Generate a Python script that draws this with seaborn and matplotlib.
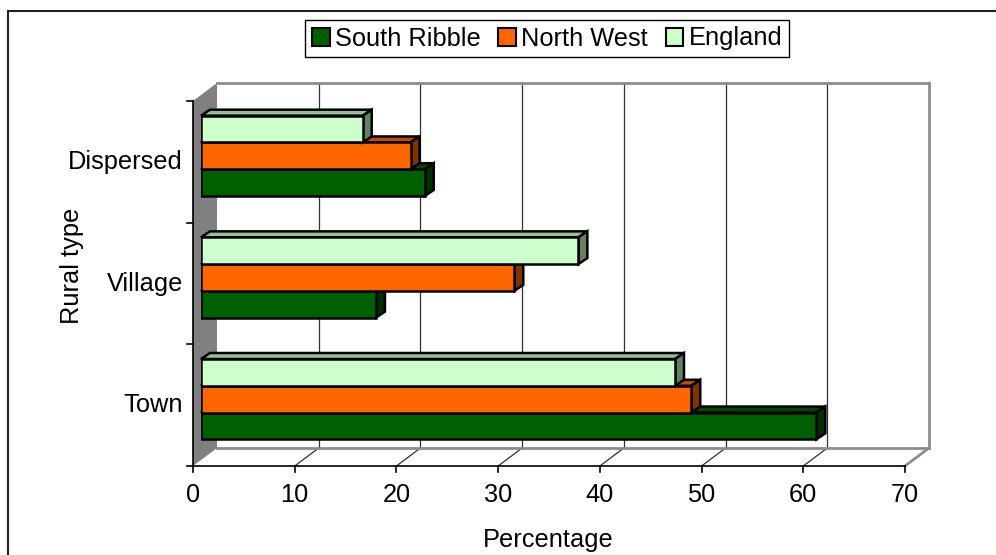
import matplotlib
matplotlib.use("Agg")
import matplotlib.pyplot as plt
import matplotlib.colors as mcolors
import seaborn as sns
import pandas as pd
from matplotlib.patches import Polygon, Rectangle, Patch
from matplotlib.transforms import IdentityTransform

# data
rural_types = ["Dispersed", "Village", "Town"]
south_ribble = [22.0, 17.2, 60.5]
north_west = [20.6, 30.8, 48.2]
england = [15.9, 37.1, 46.6]
x_ticks = [0, 10, 20, 30, 40, 50, 60, 70]
legend_order = ["South Ribble", "North West", "England"]

df = pd.DataFrame({
    "Rural type": rural_types * 3,
    "Region": ["South Ribble"] * 3 + ["North West"] * 3 + ["England"] * 3,
    "Percentage": south_ribble + north_west + england,
})

colors = {"South Ribble": "#006000", "North West": "#ff6600", "England": "#ccffcc"}

sns.set_style("white")
plt.rcParams["font.family"] = ["Liberation Sans", "DejaVu Sans"]
plt.rcParams["text.color"] = "black"
FS = 18.3

W, H = 996, 555
fig = plt.figure(figsize=(W / 100, H / 100), dpi=100)
# the axes is the plane where the bar fronts sit
ax = fig.add_axes([201 / W, 1 - 460 / H, 712 / W, 365 / H])
sns.barplot(data=df, x="Percentage", y="Rural type", hue="Region", order=rural_types,
            hue_order=["England", "North West", "South Ribble"], palette=colors,
            saturation=1, orient="h", width=0.66, edgecolor="black", linewidth=1.8,
            legend=False, ax=ax)
bar_patches = list(ax.patches)
ax.set_xlim(0, 70)
ax.set_ylim(2.5, -0.5)
ax.axis("off")

FRONT = (-8, -6)
BACK = (16, 12)
BAR_D = (9, 6)
ident = IdentityTransform()


def px(x, y, off=(0, 0)):
    X, Y = ax.transData.transform((x, y))
    return (X + off[0], Y + off[1])


def line(p0, p1, color="black", lw=1.0, z=1):
    ax.plot([p0[0], p1[0]], [p0[1], p1[1]], color=color, lw=lw, transform=ident,
            clip_on=False, zorder=z, solid_capstyle="projecting")


def shade(c, f):
    r, g, b = mcolors.to_rgb(c)
    return (r * f, g * f, b * f)


# left side wall
ax.add_artist(Polygon([px(0, -0.5, FRONT), px(0, -0.5, BACK), px(0, 2.5, BACK), px(0, 2.5, FRONT)],
                      closed=True, facecolor="#808080", edgecolor="none", transform=ident,
                      clip_on=False, zorder=0.5))

# back wall and floor
for t in x_ticks[1:-1]:
    line(px(t, -0.5, BACK), px(t, 2.5, BACK), color="#303030", lw=0.9, z=0.6)
    line(px(t, 2.5, FRONT), px(t, 2.5, BACK), color="#303030", lw=0.9, z=0.6)
line(px(0, -0.5, BACK), px(70, -0.5, BACK), color="#8c8c8c", lw=2, z=0.7)
line(px(70, -0.5, BACK), px(70, 2.5, BACK), color="#8c8c8c", lw=2, z=0.7)
line(px(0, 2.5, BACK), px(70, 2.5, BACK), color="#8c8c8c", lw=2, z=0.7)
line(px(70, 2.5, FRONT), px(70, 2.5, BACK), color="#8c8c8c", lw=2, z=0.7)

# front axes lines and ticks
line(px(0, 2.5, FRONT), px(70, 2.5, FRONT), lw=1.2, z=0.8)
line(px(0, -0.5, FRONT), px(0, 2.5, FRONT), lw=1.2, z=0.8)
for t in x_ticks:
    X, Y = px(t, 2.5, FRONT)
    line((X, Y), (X, Y - 6), lw=1.2, z=0.8)
    ax.text(X, Y - 29, str(t), transform=ident, ha="center", va="center", fontsize=FS)
for yb in [-0.5, 0.5, 1.5, 2.5]:
    X, Y = px(0, yb, FRONT)
    line((X - 6, Y), (X, Y), lw=1.2, z=0.8)
for i, name in enumerate(rural_types):
    X, Y = px(0, i, FRONT)
    ax.text(X - 10, Y, name, transform=ident, ha="right", va="center", fontsize=FS)

# 3D faces on the bars, drawn bottom bar first so upper bars hide them
bars = sorted(bar_patches, key=lambda p: -(p.get_y() + p.get_height() / 2))
for i, p in enumerate(bars):
    x0, y0 = p.get_x(), p.get_y()
    (L, B), (R, T) = px(x0, y0 + p.get_height()), px(x0 + p.get_width(), y0)
    fc = p.get_facecolor()
    z = 2 + 2 * i
    dx, dy = BAR_D
    ax.add_artist(Polygon([(L, T), (R, T), (R + dx, T + dy), (L + dx, T + dy)], closed=True,
                          facecolor=shade(fc, 0.75), edgecolor="black", lw=1.8,
                          transform=ident, clip_on=False, zorder=z))
    ax.add_artist(Polygon([(R, B), (R, T), (R + dx, T + dy), (R + dx, B + dy)], closed=True,
                          facecolor=shade(fc, 0.5), edgecolor="black", lw=1.8,
                          transform=ident, clip_on=False, zorder=z))
    p.set_zorder(z + 1)
    p.set_joinstyle("miter")

fig.text(72 / W, 1 - 266 / H, "Rural type", rotation=90, ha="center", va="center", fontsize=FS)
fig.text(548 / W, 1 - 540 / H, "Percentage", ha="center", va="center", fontsize=FS)

handles = [Patch(facecolor=colors[n], edgecolor="black", lw=1.5, label=n) for n in legend_order]
leg = fig.legend(handles=handles, loc="center", bbox_to_anchor=(547 / W, 1 - 38.5 / H), ncol=3,
                 frameon=True, fancybox=False, edgecolor="black", framealpha=1, fontsize=FS,
                 handlelength=0.7, handleheight=0.7, handletextpad=0.2, columnspacing=0.7,
                 borderpad=0.25, borderaxespad=0)
leg.get_frame().set_linewidth(1)

# outer chart border (right and bottom sides run off the picture)
fig.add_artist(Rectangle((8 / W, -0.1), 1.1, 1 - 11 / H + 0.1, transform=fig.transFigure,
                         fill=False, edgecolor="#222222", lw=1.5))

fig.savefig("out.png", dpi=100)
